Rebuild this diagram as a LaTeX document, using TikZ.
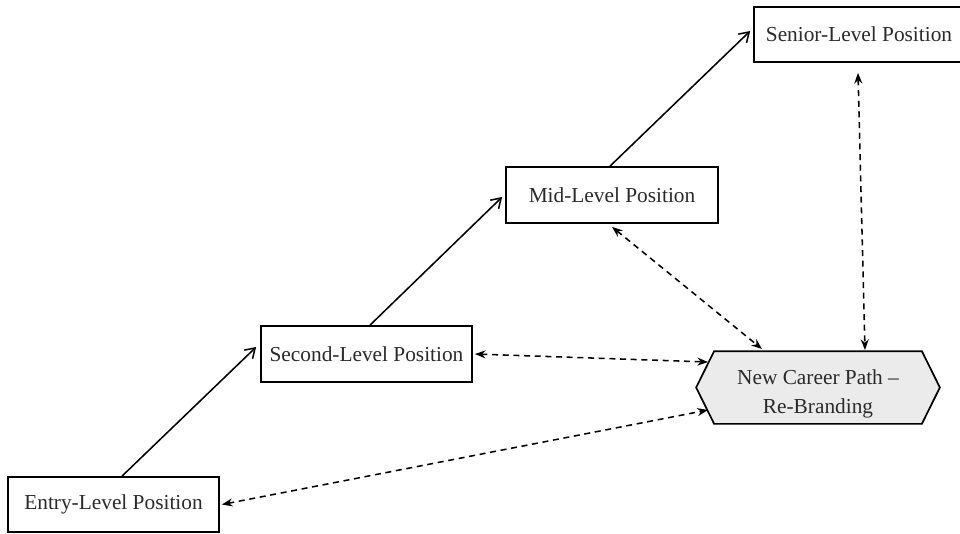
\documentclass[tikz,border=0pt]{standalone}
\usepackage{fontspec}
\setmainfont{Liberation Serif}
\usetikzlibrary{arrows.meta,calc,backgrounds}
\definecolor{txt}{HTML}{2A2A2A}
\definecolor{hexfill}{HTML}{EBEBEB}
\tikzset{
  posbox/.style={draw=black, line width=1.3pt, inner sep=0pt, text=txt,
    font=\fontsize{16}{19}\selectfont, align=center},
  upflow/.style={line width=1.15pt, -{Straight Barb[length=7pt,width=9pt,line width=1.15pt]}},
  linkflow/.style={line width=1.15pt, dash pattern=on 4.5pt off 3.5pt,
    {Stealth[length=8pt,width=6pt]}-{Stealth[length=8pt,width=6pt]}},
}
\begin{document}
\begin{tikzpicture}[x=0.75pt,y=-0.75pt]
\useasboundingbox (0,0) rectangle (960,533);
\node[posbox, minimum width=158.25pt, minimum height=41.25pt] (entry) at (113.5,504.5) {Entry-Level Position};
\node[posbox, minimum width=158.25pt, minimum height=42pt] (second) at (366.5,354) {Second-Level Position};
\node[posbox, minimum width=159pt, minimum height=42pt] (mid) at (612,195) {Mid-Level Position};
\node[posbox, minimum width=157.5pt, minimum height=41.25pt] (senior) at (859,34.5) {Senior-Level Position};
\node[posbox, draw=none, font=\fontsize{16}{22}\selectfont, minimum width=154.5pt, minimum height=53.25pt] (hex) at (818,394) {New Career Path --\\Re-Branding};
\begin{scope}[on background layer]
\draw[line width=1.3pt, fill=hexfill] ($(hex.north west)+(0,-6.5)$) -- ($(hex.north east)+(0,-6.5)$) -- ($(hex.east)+(18,-6.5)$) -- ($(hex.south east)+(0,-6.5)$) -- ($(hex.south west)+(0,-6.5)$) -- ($(hex.west)+(-18,-6.5)$) -- cycle;
\end{scope}
\coordinate (hexA) at (708,362);
\coordinate (hexB) at (708,410);
\coordinate (hexC) at (762,349);
\coordinate (hexD) at (865,350);
% solid upward arrows
\draw[upflow] ($(entry.north)+(8.5,0)$) -- ($(second.west)+(-4,-7)$);
\draw[upflow] ($(second.north)+(3.5,0)$) -- ($(mid.west)+(-3,2)$);
\draw[upflow] ($(mid.north)+(-2,0)$) -- ($(senior.west)+(-3,-3.5)$);
% dashed links
\draw[linkflow] ($(entry.east)+(2,0)$) -- (hexB);
\draw[linkflow] ($(second.east)+(2,0)$) -- (hexA);
\draw[linkflow] ($(mid.south)+(0,3)$) -- (hexC);
\draw[linkflow] ($(senior.south)+(-1,10)$) -- (hexD);
\end{tikzpicture}
\end{document}
